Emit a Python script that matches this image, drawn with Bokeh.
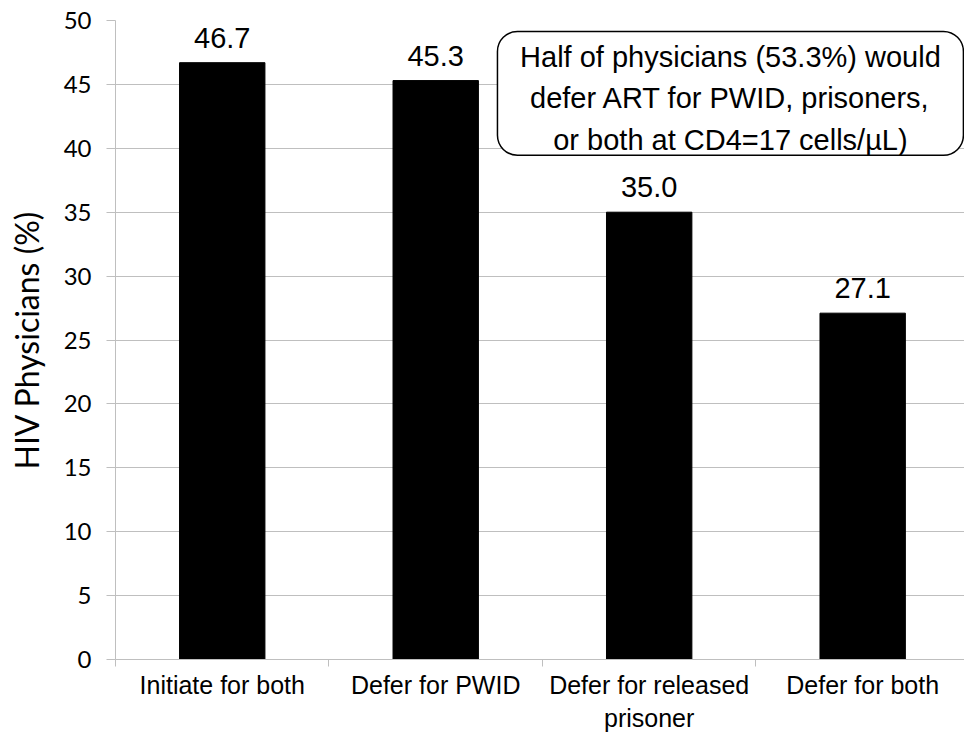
from bokeh.plotting import figure
from bokeh.models import (Range1d, FixedTicker, ColumnDataSource, LabelSet, Label,
                          BoxAnnotation)
from bokeh.core.properties import value
from bokeh.embed import file_html
from bokeh.resources import INLINE

categories = ["Initiate for both", "Defer for PWID", "Defer for released\nprisoner", "Defer for both"]
values = [46.7, 45.3, 35.0, 27.1]
value_labels = ["46.7", "45.3", "35.0", "27.1"]
y_ticks = [0, 5, 10, 15, 20, 25, 30, 35, 40, 45, 50]
note = "Half of physicians (53.3%) would\ndefer ART for PWID, prisoners,\nor both at CD4=17 cells/\u00b5L)"

centers = [i + 0.5 for i in range(len(categories))]
bounds = [i for i in range(len(categories) + 1)]

p = figure(width=964, height=735, output_backend="svg", toolbar_location=None,
           x_range=Range1d(0, 3.977), y_range=Range1d(0, 50),
           min_border_left=115, min_border_right=0, min_border_top=20, min_border_bottom=75)
p.outline_line_color = None
p.background_fill_color = "white"
p.border_fill_color = "white"

src = ColumnDataSource(dict(x=centers, top=values, lab=value_labels))
p.vbar(x="x", top="top", width=0.4, bottom=0, source=src, fill_color="black", line_color="black")

# axes
xa = p.xaxis[0]
xa.ticker = FixedTicker(ticks=centers, minor_ticks=bounds)
xa.major_label_overrides = {c: lab for c, lab in zip(centers, categories)}
xa.major_tick_out = 0
xa.major_tick_in = 0
xa.minor_tick_out = 7
xa.minor_tick_in = 0
xa.minor_tick_line_color = "#bfbfbf"
xa.axis_line_color = "#bfbfbf"
xa.major_label_text_font = "Liberation Sans"
xa.major_label_text_font_size = "25px"
xa.major_label_text_color = "black"
xa.major_label_standoff = 4

ya = p.yaxis[0]
ya.ticker = FixedTicker(ticks=y_ticks, minor_ticks=[])
ya.axis_line_color = "#bfbfbf"
ya.major_tick_line_color = "#bfbfbf"
ya.major_tick_out = 9
ya.major_tick_in = 0
ya.minor_tick_out = 0
ya.minor_tick_in = 0
ya.major_label_text_font = "Lato"
ya.major_label_text_font_size = "24px"
ya.major_label_text_color = "black"
ya.major_label_standoff = 15
ya.axis_label = "HIV Physicians (%)"
ya.axis_label_text_font = "Lato"
ya.axis_label_text_font_size = "32px"
ya.axis_label_text_font_style = "normal"
ya.axis_label_text_color = "black"
ya.axis_label_standoff = 15

p.xgrid.grid_line_color = None
p.ygrid.grid_line_color = "#bfbfbf"
p.ygrid.grid_line_width = 1

labels = LabelSet(x="x", y="top", text="lab", source=src, text_align="center",
                  text_baseline="alphabetic", y_offset=15,
                  text_font=value("Liberation Sans"), text_font_size=value("29px"),
                  text_color="black")
p.add_layout(labels)

box = BoxAnnotation(left=(497 - 115) / 213.5, right=(963 - 115) / 213.5,
                    top=50 - (31 - 20) / 12.8, bottom=50 - (155 - 20) / 12.8,
                    fill_color="white", fill_alpha=1.0, line_color="black", line_alpha=1.0,
                    line_width=1.5, border_radius=20, level="annotation")
p.add_layout(box)

note_label = Label(x=(730 - 115) / 213.5, y=50 - (98 - 20) / 12.8, text=note,
                   text_align="center", text_baseline="middle", text_line_height=1.3,
                   text_font="Liberation Sans", text_font_size="29px", text_color="black")
p.add_layout(note_label)

open("out.html", "w").write(file_html(p, INLINE))
